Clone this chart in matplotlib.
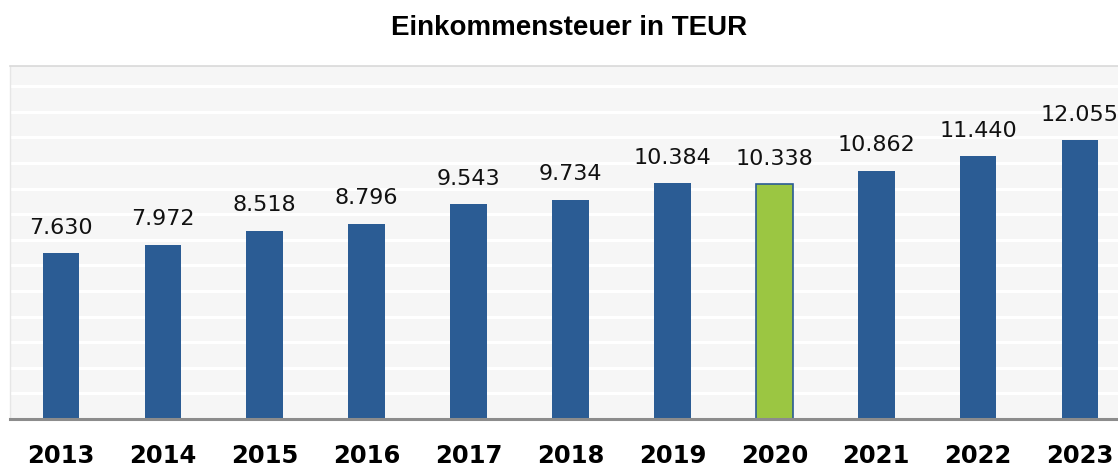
import numpy as np
import matplotlib.pyplot as plt

# Daten
jahre = ['2013', '2014', '2015', '2016', '2017', '2018', '2019', '2020', '2021', '2022', '2023']
werte = [7630, 7972, 8518, 8796, 9543, 9734, 10384, 10338, 10862, 11440, 12055]
beschriftung = ['7.630', '7.972', '8.518', '8.796', '9.543', '9.734', '10.384',
                '10.338', '10.862', '11.440', '12.055']

blau = '#2B5C94'
gruen = '#9BC642'
farben = [gruen if j == '2020' else blau for j in jahre]

fig = plt.figure(figsize=(11.18, 4.66), dpi=100)
ax = fig.add_axes([10 / 1118, 47 / 466, 1121 / 1118, 353 / 466])
ax.set_facecolor('#F6F6F6')

y_min, y_max = 1160, 14950
x = np.arange(len(jahre))
balken = ax.bar(x, werte, width=0.36, color=farben, zorder=3,
                edgecolor=[blau if j == '2020' else 'none' for j in jahre],
                linewidth=1.2)

# Gitterlinien (weiss auf hellgrau)
for g in np.arange(y_min + 1000, y_max, 1000):
    ax.axhline(g, color='white', linewidth=2.2, zorder=1)

for xi, w, txt in zip(x, werte, beschriftung):
    ax.annotate(txt, (xi, w), xytext=(0, 11), textcoords='offset points',
                ha='center', va='bottom', fontsize=16, family='DejaVu Sans',
                color='#111111')

ax.set_xlim(-0.5, len(jahre) - 0.5)
ax.set_ylim(y_min, y_max)
ax.set_yticks([])
ax.set_xticks(x)
ax.set_xticklabels(jahre, fontsize=17.5, fontweight='bold', family='DejaVu Sans')
ax.tick_params(axis='x', length=0, pad=18)

ax.spines['right'].set_visible(False)
ax.spines['top'].set_color('#D9D9D9')
ax.spines['top'].set_linewidth(1.2)
ax.spines['left'].set_color('#E6E6E6')
ax.spines['left'].set_linewidth(1.0)
ax.spines['bottom'].set_color('#8C8C8C')
ax.spines['bottom'].set_linewidth(2.2)
ax.spines['bottom'].set_zorder(4)

fig.text(569 / 1118, 1 - 28 / 466, 'Einkommensteuer in TEUR', ha='center', va='center',
         fontsize=20, fontweight='bold', family='Liberation Sans')

fig.savefig('out.png', dpi=100)
